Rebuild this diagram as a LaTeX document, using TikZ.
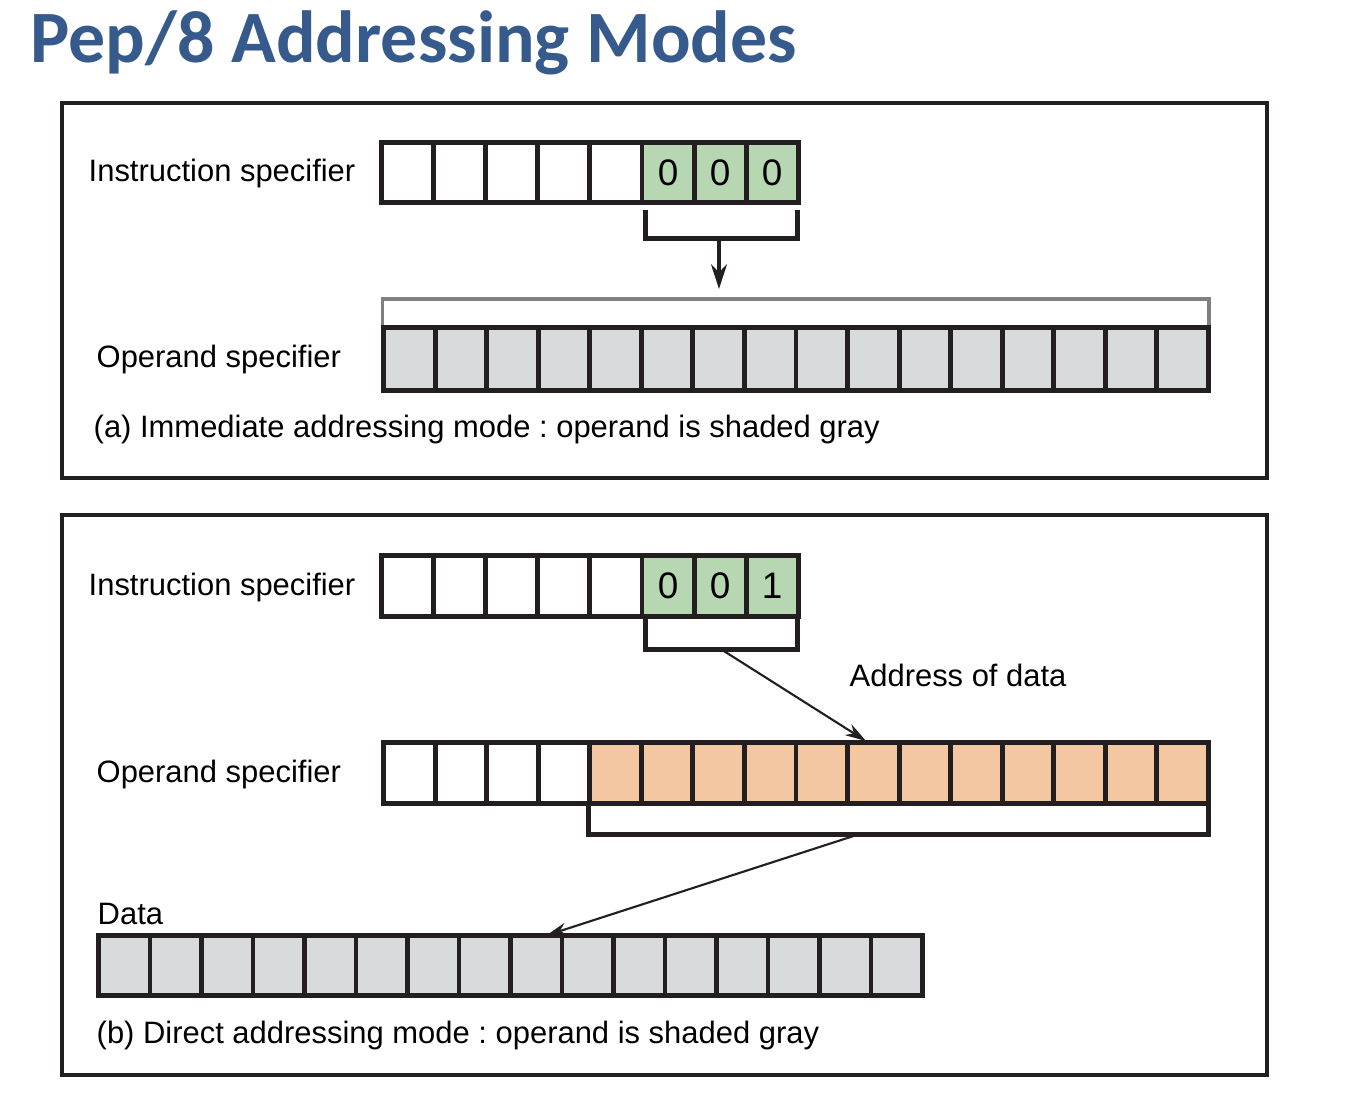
\documentclass[tikz,border=0pt]{standalone}
\usepackage{fontspec}
\setmainfont{Liberation Sans}
\newfontfamily\titlefont{Carlito}
\usepackage{tikz}
\usetikzlibrary{arrows.meta,calc}
\frenchspacing

\definecolor{ink}{HTML}{231F20}
\definecolor{titleblue}{HTML}{375A8C}
\definecolor{opgreen}{HTML}{B7D7B3}
\definecolor{oporange}{HTML}{F4C7A3}
\definecolor{opgray}{HTML}{D9DADC}
\definecolor{bracegray}{HTML}{808080}

\tikzset{
	cellbox/.style={draw=ink, line width=1.4pt, inner sep=0pt, outer sep=0pt, font=\fontsize{10.5}{12}\selectfont},
	lbl/.style={anchor=base west, inner sep=0pt, font=\fontsize{8.8}{10}\selectfont},
	framebox/.style={draw=ink, line width=1.1pt},
	ptr/.style={draw=ink, line width=0.6pt, -{Stealth[length=6pt,width=3.6pt]}},
}

\begin{document}
\begin{tikzpicture}[x=0.01cm, y=-0.01cm]
		\useasboundingbox (0,0) rectangle (1362,1111);
		\node[anchor=base west, inner sep=0pt, text=titleblue, font=\titlefont\bfseries\fontsize{21}{25}\selectfont] (title) at (30,62) {Pep/8 Addressing Modes};
		
		% (a) immediate
		\draw[framebox] (62,103) rectangle (1267,478);
		\node[lbl] (ia-lbl) at (88,181) {Instruction specifier};
		\foreach \i in {1,...,5}
			\node[cellbox, minimum width=0.521cm, minimum height=0.6cm] (ia-\i) at ({381.5+52.1*(\i-0.5)},172.5) {};
		\foreach \i/\d in {6/0,7/0,8/0}
			\node[cellbox, fill=opgreen, minimum width=0.521cm, minimum height=0.6cm] (ia-\i) at ({381.5+52.1*(\i-0.5)},172.5) {\d};
		\draw[ink, line width=1.4pt] (645.5,210) |- (797.5,238.5) -- (797.5,210);
		\coordinate (ia-brk) at (719,238.5);
		\coordinate (oa-tip) at (719,289);
		\draw[ptr, line width=1.4pt, -{Stealth[length=7pt,width=4.5pt]}] (ia-brk) -- (oa-tip);
		
		\node[lbl] (oa-lbl) at (96,367) {Operand specifier};
		\draw[bracegray, line width=0.9pt] (382.5,325) -- (382.5,299) -- (1209,299) -- (1209,325);
		\foreach \i in {1,...,16}
			\node[cellbox, fill=opgray, minimum width=0.5156cm, minimum height=0.63cm] (oa-\i) at ({383.5+51.56*(\i-0.5)},359) {};
		\node[lbl] (cap-a) at (93,437) {(a) Immediate addressing mode : operand is shaded gray};
		
		% (b) direct
		\draw[framebox] (62,515) rectangle (1267,1075);
		\node[lbl] (ib-lbl) at (88,595) {Instruction specifier};
		\foreach \i in {1,...,5}
			\node[cellbox, minimum width=0.521cm, minimum height=0.61cm] (ib-\i) at ({381.5+52.1*(\i-0.5)},586) {};
		\foreach \i/\d in {6/0,7/0,8/1}
			\node[cellbox, fill=opgreen, minimum width=0.521cm, minimum height=0.61cm] (ib-\i) at ({381.5+52.1*(\i-0.5)},586) {\d};
		\node[cellbox, minimum width=1.52cm, minimum height=0.33cm] (ib-ptr) at (721.5,633) {};
		\node[lbl] (addr-lbl) at (849,686) {Address of data};
		
		\node[lbl] (ob-lbl) at (96,782) {Operand specifier};
		\foreach \i in {1,...,4}
			\node[cellbox, minimum width=0.5156cm, minimum height=0.61cm] (ob-\i) at ({383.5+51.56*(\i-0.5)},773) {};
		\foreach \i in {5,...,16}
			\node[cellbox, fill=oporange, minimum width=0.5156cm, minimum height=0.61cm] (ob-\i) at ({383.5+51.56*(\i-0.5)},773) {};
		\node[cellbox, minimum width=6.2cm, minimum height=0.31cm] (ob-ptr) at (898.5,819) {};
		\coordinate (ob-tip) at (866,741);
		\draw[ptr] (ib-ptr.south) -- (ob-tip);
		
		\node[lbl] (d-lbl) at (97,924) {Data};
		\foreach \i in {1,...,16}
			\node[cellbox, fill=opgray, minimum width=0.515cm, minimum height=0.6cm] (d-\i) at ({98.5+51.5*(\i-0.5)},965.5) {};
		\draw[ptr] ($(ob-ptr.south west)!0.435!(ob-ptr.south east)$) -- ([xshift=0.1cm]d-9.north);
		\node[lbl] (cap-b) at (96,1043) {(b) Direct addressing mode : operand is shaded gray};
	\end{tikzpicture}
\end{document}
